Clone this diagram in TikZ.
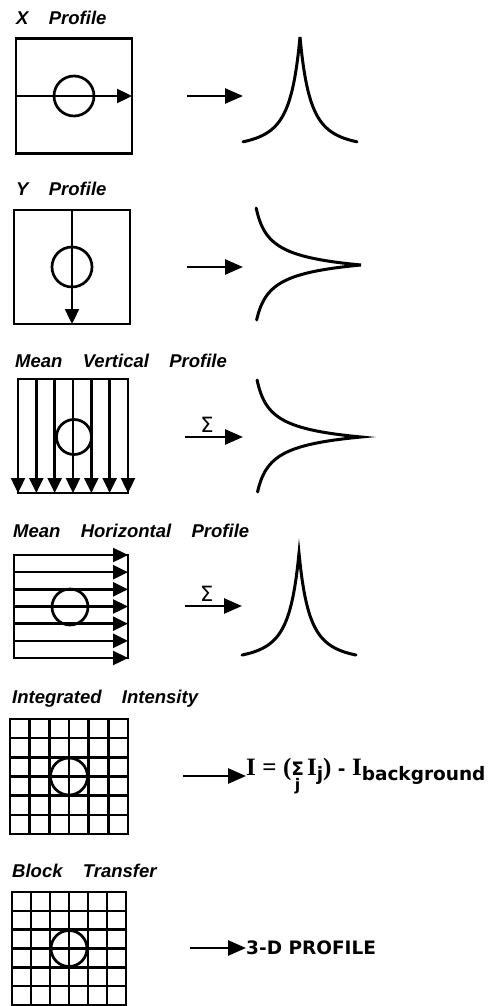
\documentclass[tikz,border=0pt]{standalone}
\usepackage{fontspec}
\setmainfont{DejaVu Sans}
\newfontfamily\serifI{Liberation Serif}
\newfontfamily\capfont{Liberation Sans}
\usetikzlibrary{positioning,calc,arrows.meta}

\newcommand\bigI{{\serifI\fontsize{25}{27}\selectfont I}}
\newcommand\serifpart[1]{{\serifI\fontsize{25}{27}\selectfont #1}}
\newcommand\lowsub[1]{\raisebox{-5pt}{#1}}
\newcommand\sumj{\vtop{\baselineskip=15pt\lineskiplimit=-20pt
  \halign{\hfil##\hfil\cr Σ\cr{\fontsize{16}{16}\selectfont j}\cr}}}

\tikzset{
  caption/.style={anchor=base west,inner sep=0pt,font=\capfont\fontsize{18.5}{20}\selectfont\bfseries\itshape},
  frame/.style={draw,line width=2.7pt,inner sep=0pt,outer sep=0pt},
  spot/.style={circle,draw,line width=2.7pt,inner sep=0pt},
  scan/.style={line width=2.4pt,-{Triangle[length=15pt,width=14pt]}},
  feed/.style={line width=2.6pt,-{Triangle[length=18pt,width=15pt]}},
  sumlabel/.style={above=3pt,pos=0.38,inner sep=0pt,font=\fontsize{21}{22}\selectfont},
  peak/.style={line width=3pt,line cap=round},
  gline/.style={line width=2.4pt},
  result/.style={anchor=west,inner sep=0pt,font=\fontsize{18.5}{22}\selectfont\bfseries}
}

\begin{document}
\begin{tikzpicture}[x=1pt,y=-1pt]
\useasboundingbox (0,0) rectangle (497,1006);

% X profile
\node[caption] (xcap) at (16,25) {X\hspace{1.1em}Profile};
\node[frame,minimum width=116pt,minimum height=115pt] (xbox) at (74,96) {};
\node[spot,minimum size=40pt] (xspot) at (xbox.center) {};
\draw[scan] (xbox.west) -- (xbox.east);
\coordinate (xin) at (187,96);
\coordinate (xout) at (243,96);
\draw[feed] (xin) -- (xout);
\draw[peak] plot[domain=-57:57,samples=115] ({300+\x},{150-113/(1+abs(\x)/21)^2});

% Y profile
\node[caption] (ycap) at (16,195) {Y\hspace{1.1em}Profile};
\node[frame,minimum width=116pt,minimum height=114pt] (ybox) at (72,267) {};
\node[spot,minimum size=40pt] (yspot) at (ybox.center) {};
\draw[scan] (ybox.north) -- (ybox.south);
\coordinate (yin) at (187,267);
\coordinate (yout) at (243,267);
\draw[feed] (yin) -- (yout);
\draw[peak] plot[domain=-57:55,samples=113] ({248+113/(1+abs(\x)/21)^2},{265+\x});

% mean vertical profile
\node[caption] (vcap) at (15,367) {Mean\hspace{1.1em}Vertical\hspace{1.1em}Profile};
\node[frame,minimum width=110pt,minimum height=114pt] (vbox) at (73,436) {};
\foreach \i in {0,...,6}
  \draw[scan] ($(vbox.north west)!\i/6!(vbox.north east)$) -- ($(vbox.south west)!\i/6!(vbox.south east)$);
\node[spot,minimum size=35pt] (vspot) at (74,437) {};
\coordinate (vin) at (185,437);
\coordinate (vout) at (243,437);
\draw[feed] (vin) -- node[sumlabel] {Σ} (vout);
\draw[peak] plot[domain=-57:55,samples=113] ({249+112/(1+abs(\x)/21)^2},{437+\x});

% mean horizontal profile
\node[caption] (hcap) at (13,537) {Mean\hspace{1.1em}Horizontal\hspace{1.1em}Profile};
\node[frame,minimum width=114pt,minimum height=103pt] (hbox) at (71,606.5) {};
\foreach \i in {0,...,6}
  \draw[scan] ($(hbox.north west)!\i/6!(hbox.south west)$) -- ($(hbox.north east)!\i/6!(hbox.south east)$);
\node[spot,minimum size=36pt] (hspot) at (70,607) {};
\coordinate (hin) at (185,606);
\coordinate (hout) at (242,606);
\draw[feed] (hin) -- node[sumlabel] {Σ} (hout);
\draw[peak] plot[domain=-57:57,samples=115] ({299+\x},{663-110/(1+abs(\x)/21)^2});

% integrated intensity
\node[caption] (icap) at (12,703) {Integrated\hspace{1.1em}Intensity};
\node[frame,minimum width=118pt,minimum height=115pt] (igrid) at (69,776.5) {};
\foreach \i in {1,...,5} {
  \draw[gline] ($(igrid.north west)!\i/6!(igrid.north east)$) -- ($(igrid.south west)!\i/6!(igrid.south east)$);
  \draw[gline] ($(igrid.north west)!\i/6!(igrid.south west)$) -- ($(igrid.north east)!\i/6!(igrid.south east)$);
}
\node[spot,minimum size=37pt] (ispot) at (igrid.center) {};
\node[result] (iform) at (246,776) {\bigI\ \serifpart{=}\ \serifpart{(}\sumj\,\bigI\lowsub{j}\serifpart{)}\ - \bigI\lowsub{background}};
\coordinate (iin) at (183,776);
\draw[feed] (iin) -- (iform.west);

% block transfer
\node[caption] (bcap) at (12,877) {Block\hspace{1.1em}Transfer};
\node[frame,minimum width=114pt,minimum height=113pt] (bgrid) at (69,948.5) {};
\foreach \i in {1,...,5} {
  \draw[gline] ($(bgrid.north west)!\i/6!(bgrid.north east)$) -- ($(bgrid.south west)!\i/6!(bgrid.south east)$);
  \draw[gline] ($(bgrid.north west)!\i/6!(bgrid.south west)$) -- ($(bgrid.north east)!\i/6!(bgrid.south east)$);
}
\node[spot,minimum size=36pt] (bspot) at (bgrid.center) {};
\node[result] (bform) at (246,948) {3-D PROFILE};
\coordinate (bin) at (190,948);
\draw[feed] (bin) -- (bform.west);
\end{tikzpicture}
\end{document}
